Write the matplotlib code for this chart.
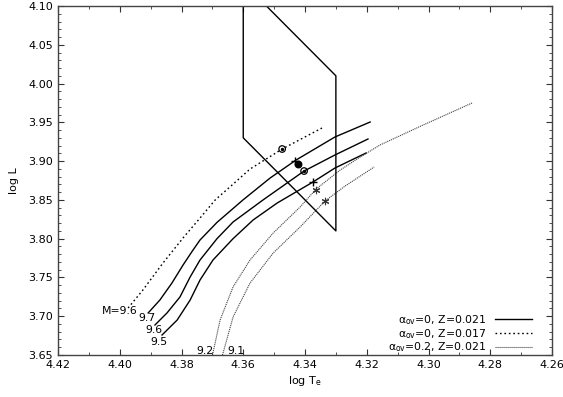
import matplotlib
matplotlib.use("Agg")
import matplotlib.pyplot as plt
import numpy as np

# ---- data ----
# solid tracks (alpha_ov=0, Z=0.021)
t97 = [4.3908, 4.3870, 4.3831, 4.3795, 4.3765, 4.3740, 4.3685, 4.3601, 4.3513, 4.3429, 4.3303, 4.3189]
l97 = [3.7042, 3.7209, 3.7428, 3.7660, 3.7840, 3.7983, 3.8210, 3.8499, 3.8782, 3.9014, 3.9311, 3.9504]
t96 = [4.3886, 4.3847, 4.3805, 4.3772, 4.3740, 4.3685, 4.3633, 4.3536, 4.3403, 4.3303, 4.3196]
l96 = [3.6887, 3.7042, 3.7248, 3.7506, 3.7725, 3.8000, 3.8215, 3.8499, 3.8872, 3.9079, 3.9285]
t95 = [4.3863, 4.3814, 4.3772, 4.3740, 4.3698, 4.3633, 4.3568, 4.3490, 4.3374, 4.3303, 4.3202]
l95 = [3.6758, 3.6951, 3.7209, 3.7467, 3.7725, 3.8000, 3.8241, 3.8460, 3.8731, 3.8911, 3.9105]
# dotted track (alpha_ov=0, Z=0.017), M=9.6
tz = [4.3973, 4.3925, 4.3860, 4.3795, 4.3740, 4.3691, 4.3636, 4.3578, 4.3474, 4.3345]
lz = [3.7106, 3.7338, 3.7686, 3.8009, 3.8266, 3.8499, 3.8692, 3.8898, 3.9156, 3.9427]
# overshoot tracks (alpha_ov=0.2, Z=0.021)
t92 = [4.3701, 4.3675, 4.3633, 4.3578, 4.3503, 4.3416, 4.3364, 4.3286, 4.3221, 4.3157, 4.3017, 4.2859]
l92 = [3.6474, 3.6951, 3.7377, 3.7725, 3.8073, 3.8408, 3.8640, 3.8885, 3.9053, 3.9208, 3.9466, 3.9749]
t91 = [4.3669, 4.3633, 4.3578, 4.3503, 4.3416, 4.3335, 4.3270, 4.3176]
l91 = [3.6474, 3.6990, 3.7428, 3.7815, 3.8150, 3.8486, 3.8679, 3.8924]
# instability strip box
box_t = [4.36, 4.36, 4.33, 4.33, 4.3575]
box_l = [4.12, 3.93, 3.81, 4.01, 4.12]
# observed / model points
circ_t = [4.3474, 4.3403]
circ_l = [3.9156, 3.8872]
plus_t = [4.3432, 4.3374]
plus_l = [3.9001, 3.8731]
dot_t = [4.3422]
dot_l = [3.8963]
star_t = [4.3364, 4.3335]
star_l = [3.8627, 3.8486]
# labels
lab_text = ["9.7", "9.6", "9.5", "9.2", "9.1"]
lab_t = [4.3912, 4.3889, 4.3873, 4.3724, 4.3623]
lab_l = [3.6977, 3.6822, 3.6667, 3.6552, 3.6552]

xticks = [4.42, 4.40, 4.38, 4.36, 4.34, 4.32, 4.30, 4.28, 4.26]
yticks = [3.65, 3.70, 3.75, 3.80, 3.85, 3.90, 3.95, 4.00, 4.05, 4.10]

plt.rcParams['font.family'] = ['DejaVu Sans']
fig = plt.figure(figsize=(5.63, 3.97), dpi=100)
ax = fig.add_axes([58/563, 1-355/397, (552-58)/563, (355-6)/397])

solid_kw = dict(color='black', lw=1.0)
ax.plot(t97, l97, **solid_kw, label='α$_{\\rm ov}$=0, Z=0.021')
ax.plot(t96, l96, **solid_kw)
ax.plot(t95, l95, **solid_kw)
ax.plot(tz, lz, color='black', lw=1.0, ls=(0, (1.2, 2.0)), label='α$_{\\rm ov}$=0, Z=0.017')
ax.plot(t92, l92, color='#444444', lw=0.8, ls=(0, (1, 0.8)), label='α$_{\\rm ov}$=0.2, Z=0.021')
ax.plot(t91, l91, color='#444444', lw=0.8, ls=(0, (1, 0.8)))
ax.plot(box_t, box_l, color='black', lw=1.0)

ax.scatter(circ_t, circ_l, s=22, facecolors='none', edgecolors='black', linewidths=0.9, zorder=5)
ax.scatter(circ_t, circ_l, s=2, color='black', zorder=5)
ax.scatter(plus_t, plus_l, s=30, marker='+', color='black', linewidths=1.0, zorder=5)
ax.scatter(dot_t, dot_l, s=22, color='black', zorder=5)
ax.scatter(star_t, star_l, s=22, marker=(6, 2, 0), color='#333333', linewidths=0.8, zorder=5)

ax.text(4.3941, 3.7067, "M=9.6", ha='right', va='center', fontsize=7.8)
for s, tx, ly in zip(lab_text, lab_t, lab_l):
    ax.text(tx, ly, s, ha='center', va='center', fontsize=7.8)

ax.set_xlim(4.42, 4.26)
ax.set_ylim(3.65, 4.10)
ax.set_xticks(xticks)
ax.set_xticklabels([f"{v:.2f}" for v in xticks])
ax.set_yticks(yticks)
ax.set_yticklabels([f"{v:.2f}" for v in yticks])
ax.set_xticks(np.arange(4.26, 4.4201, 0.01), minor=True)
ax.set_yticks(np.arange(3.65, 4.1001, 0.01), minor=True)
ax.tick_params(which='both', direction='in', top=True, right=True, labelsize=8, colors='#333333', labelcolor='black')
ax.tick_params(which='major', length=4, width=0.8)
ax.tick_params(which='minor', length=2, width=0.6)
for sp in ax.spines.values():
    sp.set_color('#444444')
    sp.set_linewidth(1.0)

ax.set_xlabel(r'log T$_{\rm e}$', fontsize=8, labelpad=3)
ax.set_ylabel('log L', fontsize=8, labelpad=7)

leg = ax.legend(loc='lower right', bbox_to_anchor=(0.975, -0.02), markerfirst=False, frameon=False,
                fontsize=7.8, handlelength=3.4, handletextpad=0.8, labelspacing=0.0,
                borderaxespad=0.3)
for t in leg.get_texts():
    t.set_ha('right')

fig.savefig('out.png', dpi=100)
